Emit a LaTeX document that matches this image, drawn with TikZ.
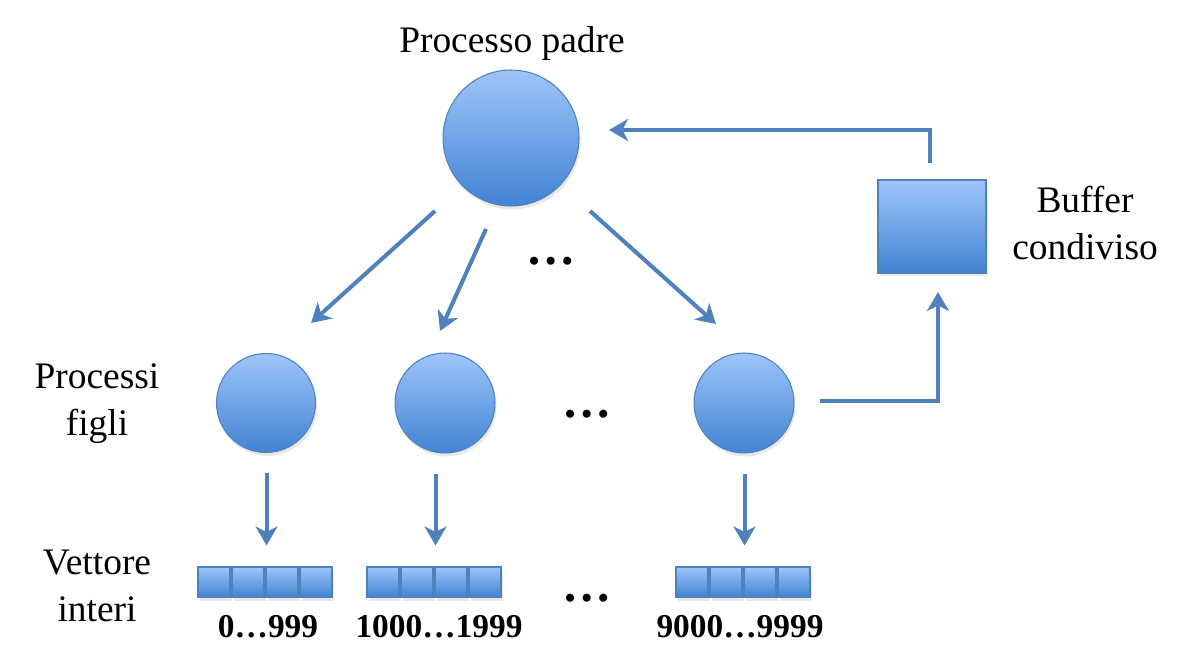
\documentclass[tikz,border=0pt]{standalone}
\usepackage{fontspec}
\setmainfont{Liberation Serif}
\usetikzlibrary{arrows.meta, shadows, calc}
\definecolor{edge}{RGB}{79,129,189}
\definecolor{topblue}{RGB}{158,197,250}
\definecolor{botblue}{RGB}{66,131,210}
\tikzset{
	blob/.style={shading=axis, top color=topblue, bottom color=botblue, draw=edge, line width=0.6pt,
		drop shadow={opacity=0.18, shadow xshift=0.03cm, shadow yshift=-0.07cm}},
	proc/.style={blob, circle, minimum size=#1, inner sep=0pt},
	cell/.style={blob, rectangle, minimum width=0.64cm, minimum height=0.6cm, inner sep=0pt},
	arr/.style={draw=edge, line width=2.3pt, -{Stealth[length=0.38cm, width=0.44cm, inset=0.11cm]}},
	lbl/.style={font=\fontsize{21.3}{26.7}\selectfont, align=center},
	num/.style={font=\fontsize{19}{23}\selectfont\bfseries, anchor=base},
	dots/.style={font=\fontsize{28}{32}\selectfont\bfseries, anchor=base}
}
\begin{document}
\begin{tikzpicture}[x=0.02cm, y=-0.02cm]
		\useasboundingbox (0, 0) rectangle (1182, 665);
		\node (p)at (511, 138)[proc=2.72cm] {};
		\node (c1)at (266, 403)[proc=1.98cm] {};
		\node (c2)at (445, 403)[proc=2cm] {};
		\node (c3)at (744, 403)[proc=2cm] {};
		\node (b)at (932, 226.5)[blob, minimum width=2.16cm, minimum height=1.86cm, inner sep=0pt] {};
		\foreach \g/\x in {1/198, 2/367, 3/676}
			\foreach \i in {1, ..., 4}
				\node (v\g-\i)at ({\x+16+(\i-1)*34}, 582)[cell] {};
		\node (tp)at (512, 53)[lbl, anchor=base] {Processo padre};
		\node (tc)at (97, 404)[lbl] {Processi\\figli};
		\node (tv)at (97, 586)[lbl] {Vettore\\interi};
		\node (tb)at (1085, 223)[lbl] {Buffer\\condiviso};
		\node (n1)at (268, 637)[num] {0…999};
		\node (n2)at (439, 637)[num] {1000…1999};
		\node (n3)at (740, 637)[num] {9000…9999};
		\node (d1)at (551, 265)[dots] {…};
		\node (d2)at (587, 417)[dots] {…};
		\node (d3)at (587, 601)[dots] {…};
		\coordinate (s1) at (435, 211);
		\coordinate (e1) at (311, 323);
		\coordinate (s2) at (486, 229);
		\coordinate (e2) at (440, 331);
		\coordinate (s3) at (590, 211);
		\coordinate (e3) at (716, 324);
		\coordinate (r1) at (820, 401);
		\coordinate (r2) at (938, 292);
		\coordinate (q1) at (930, 163);
		\coordinate (q2) at (609, 130);
		\draw [arr](s1)--(e1);
		\draw [arr](s2)--(e2);
		\draw [arr](s3)--(e3);
		\foreach \g in {1, 2, 3}
			\draw [arr, shorten <=0.4cm, shorten >=0.42cm]($(v\g-2.east |- c\g.south)+(2, 0)$)--($(v\g-2.north east)+(2, 0)$);
		\draw [arr](r1)-|(r2);
		\draw [arr](q1)|-(q2);
	\end{tikzpicture}
\end{document}
